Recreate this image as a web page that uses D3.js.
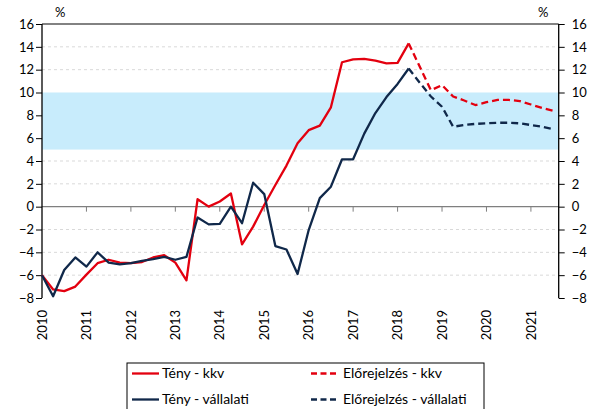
<!DOCTYPE html>
<html>
<head>
<meta charset="utf-8">
<script src="https://cdn.jsdelivr.net/npm/d3@7"></script>
<style>
  body { margin: 0; background: #fff; }
  text { font-family: Lato, 'Noto Sans', sans-serif; fill: #000; }
</style>
</head>
<body>
<div id="chart"></div>
<script>
// quarters 2010Q1 .. 2021Q3
const quarters = [
  '2010Q1', '2010Q2', '2010Q3', '2010Q4', '2011Q1', '2011Q2', '2011Q3', '2011Q4',
  '2012Q1', '2012Q2', '2012Q3', '2012Q4', '2013Q1', '2013Q2', '2013Q3', '2013Q4',
  '2014Q1', '2014Q2', '2014Q3', '2014Q4', '2015Q1', '2015Q2', '2015Q3', '2015Q4',
  '2016Q1', '2016Q2', '2016Q3', '2016Q4', '2017Q1', '2017Q2', '2017Q3', '2017Q4',
  '2018Q1', '2018Q2', '2018Q3', '2018Q4', '2019Q1', '2019Q2', '2019Q3', '2019Q4',
  '2020Q1', '2020Q2', '2020Q3', '2020Q4', '2021Q1', '2021Q2', '2021Q3'
]

// actual values, 2010Q1 .. 2018Q2
const tenyKkv = [
  -6.0, -7.25, -7.4, -7.0, -5.95, -4.95, -4.65, -4.9, -4.95, -4.85, -4.45, -4.25,
  -4.9, -6.45, 0.65, 0.0, 0.45, 1.15, -3.3, -1.75, 0.15, 1.9, 3.6, 5.55,
  6.7, 7.1, 8.7, 12.65, 12.9, 12.95, 12.8, 12.55, 12.6, 14.3
]
const tenyVallalati = [
  -6.0, -7.85, -5.55, -4.45, -5.25, -4.0, -4.9, -5.05, -4.95, -4.75, -4.6, -4.4,
  -4.65, -4.4, -0.95, -1.55, -1.5, 0.0, -1.45, 2.1, 1.1, -3.45, -3.75, -5.9,
  -2.05, 0.75, 1.75, 4.15, 4.15, 6.4, 8.2, 9.6, 10.75, 12.1
]

// forecasts, 2018Q2 .. 2021Q3
const elorejelzesKkv = [
  14.3, 12.25, 10.2, 10.65, 9.65, 9.3, 8.9, 9.15, 9.35, 9.35, 9.25, 8.95, 8.65, 8.4
]
const elorejelzesVallalati = [
  12.1, 10.85, 9.65, 8.75, 7.0, 7.15, 7.25, 7.3, 7.35, 7.35, 7.3, 7.15, 7.0, 6.8
]

const years = [2010, 2011, 2012, 2013, 2014, 2015, 2016, 2017, 2018, 2019, 2020, 2021]
const yTicks = [-8, -6, -4, -2, 0, 2, 4, 6, 8, 10, 12, 14, 16]
const band = [5, 10]

const width = 593
const height = 409
const plot = { left: 42, right: 558.7, top: 24, bottom: 298 }

const red = '#e3000f'
const navy = '#10284a'

const svg = d3
  .select('#chart')
  .append('svg')
  .attr('width', width)
  .attr('height', height)

const toYear = q => +q.slice(0, 4) + (+q.slice(5) - 1) / 4

const xPositionScale = d3
  .scaleLinear()
  .domain([2010, 2021.625])
  .range([plot.left, plot.right])

const yPositionScale = d3
  .scaleLinear()
  .domain([-8, 16])
  .range([plot.bottom, plot.top])

// blue target band
svg
  .append('rect')
  .attr('x', plot.left)
  .attr('width', plot.right - plot.left)
  .attr('y', yPositionScale(band[1]))
  .attr('height', yPositionScale(band[0]) - yPositionScale(band[1]))
  .attr('fill', '#c8ecfc')

// dashed gridlines (outside the band)
svg
  .selectAll('.grid')
  .data(yTicks.filter(d => d !== 0 && d !== 16 && d !== -8 && (d < band[0] || d > band[1])))
  .enter()
  .append('line')
  .attr('class', 'grid')
  .attr('x1', plot.left)
  .attr('x2', plot.right)
  .attr('y1', d => yPositionScale(d))
  .attr('y2', d => yPositionScale(d))
  .attr('stroke', '#d9d9d9')
  .attr('stroke-dasharray', '3,3')

// top border
svg
  .append('line')
  .attr('x1', plot.left)
  .attr('x2', plot.right)
  .attr('y1', yPositionScale(16))
  .attr('y2', yPositionScale(16))
  .attr('stroke', '#595959')
  .attr('stroke-width', 1.3)

// zero line with year ticks
svg
  .append('line')
  .attr('x1', plot.left)
  .attr('x2', plot.right)
  .attr('y1', yPositionScale(0))
  .attr('y2', yPositionScale(0))
  .attr('stroke', '#7f7f7f')
  .attr('stroke-width', 1.2)

svg
  .selectAll('.xtick')
  .data(years.slice(1))
  .enter()
  .append('line')
  .attr('class', 'xtick')
  .attr('x1', d => xPositionScale(d))
  .attr('x2', d => xPositionScale(d))
  .attr('y1', yPositionScale(0))
  .attr('y2', yPositionScale(0) + 5)
  .attr('stroke', '#7f7f7f')

svg
  .selectAll('.xlabel')
  .data(years)
  .enter()
  .append('text')
  .attr('class', 'xlabel')
  .attr('transform', d => 'translate(' + xPositionScale(d) + ',' + 310 + ') rotate(-90)')
  .attr('dy', '0.36em')
  .attr('text-anchor', 'end')
  .attr('font-size', 13)
  .text(d => d)

// y axes
const yAxisLeft = d3.axisLeft(yPositionScale).tickValues(yTicks).tickSize(6).tickPadding(2)
const yAxisRight = d3.axisRight(yPositionScale).tickValues(yTicks).tickSize(6).tickPadding(7)

svg
  .append('g')
  .attr('class', 'axis y-axis')
  .attr('transform', 'translate(' + plot.left + ',0)')
  .call(yAxisLeft)

svg
  .append('g')
  .attr('class', 'axis y-axis')
  .attr('transform', 'translate(' + plot.right + ',0)')
  .call(yAxisRight)

svg.selectAll('.y-axis .tick text').attr('font-size', 13).attr('font-family', 'Lato')
svg.selectAll('.y-axis .tick line').attr('stroke', '#000')
svg.selectAll('.y-axis .domain').attr('stroke', '#000').attr('stroke-width', 1.3)
  .attr('d', 'M0,' + plot.top + 'V' + plot.bottom)

svg.append('text').attr('x', 55).attr('y', 17).attr('font-size', 13).text('%')
svg.append('text').attr('x', 538).attr('y', 17).attr('font-size', 13).text('%')

// lines
const line = d3
  .line()
  .x(d => xPositionScale(d.x))
  .y(d => yPositionScale(d.y))

const series = [
  { values: tenyKkv, start: 0, color: red, dash: null },
  { values: tenyVallalati, start: 0, color: navy, dash: null },
  { values: elorejelzesKkv, start: 33, color: red, dash: '7,4' },
  { values: elorejelzesVallalati, start: 33, color: navy, dash: '7,4' }
]

series.forEach(s => {
  const points = s.values.map((v, i) => ({ x: toYear(quarters[s.start + i]), y: v }))
  svg
    .append('path')
    .datum(points)
    .attr('d', line)
    .attr('fill', 'none')
    .attr('stroke', s.color)
    .attr('stroke-width', 2.3)
    .attr('stroke-dasharray', s.dash)
    .attr('stroke-linejoin', 'round')
})

// legend
const legend = svg.append('g')

legend
  .append('rect')
  .attr('x', 127)
  .attr('y', 363)
  .attr('width', 357)
  .attr('height', 60)
  .attr('fill', '#fff')
  .attr('stroke', '#000')

const legendItems = [
  { label: 'Tény - kkv', color: red, dash: null, x: 132, y: 373.5 },
  { label: 'Előrejelzés - kkv', color: red, dash: '6,3.5', x: 311, y: 373.5 },
  { label: 'Tény - vállalati', color: navy, dash: null, x: 132, y: 399.5 },
  { label: 'Előrejelzés - vállalati', color: navy, dash: '6,3.5', x: 311, y: 399.5 }
]

legendItems.forEach(d => {
  legend
    .append('line')
    .attr('x1', d.x)
    .attr('x2', d.x + 27)
    .attr('y1', d.y)
    .attr('y2', d.y)
    .attr('stroke', d.color)
    .attr('stroke-width', 2.3)
    .attr('stroke-dasharray', d.dash)
  legend
    .append('text')
    .attr('x', d.dash ? d.x + 32 : d.x + 30)
    .attr('y', d.y)
    .attr('dy', '0.35em')
    .attr('font-size', 14)
    .text(d.label)
})
</script>
</body>
</html>
